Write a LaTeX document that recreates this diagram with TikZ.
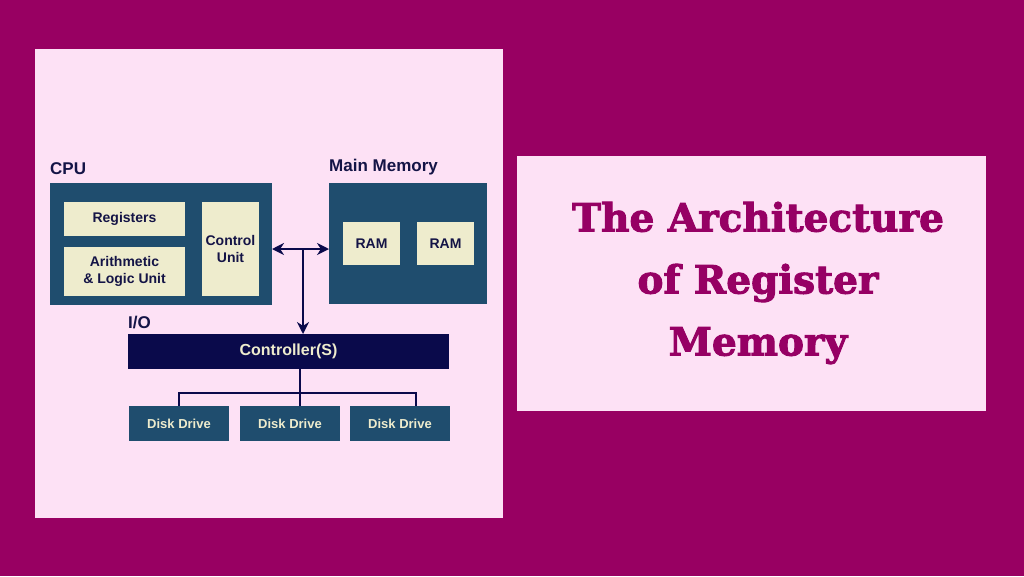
\documentclass[tikz,border=0pt]{standalone}
\usepackage{fontspec}
\usetikzlibrary{arrows.meta}
\setmainfont{Liberation Sans}
\newfontfamily\titlefont{DejaVu Serif}[BoldFeatures={FakeBold=2.5}]
\definecolor{bgmag}{RGB}{152,0,98}
\definecolor{panel}{RGB}{253,225,245}
\definecolor{teal}{RGB}{31,77,110}
\definecolor{beige}{RGB}{238,236,205}
\definecolor{navy}{RGB}{10,10,75}
\definecolor{ink}{RGB}{20,20,70}
\definecolor{titlec}{RGB}{150,0,100}
\begin{document}
\begin{tikzpicture}[x=1pt,y=-1pt,
  box/.style={fill=teal,draw=none},
  inbox/.style={fill=beige,draw=none,font=\bfseries\fontsize{14}{17}\selectfont,text=ink,align=center},
  disk/.style={fill=teal,draw=none,font=\bfseries\fontsize{13}{15}\selectfont,text=beige},
  lbl/.style={font=\bfseries\fontsize{17}{19}\selectfont,text=ink,anchor=south west,inner sep=0pt},
  conn/.style={draw=navy,line width=2pt},
  tip/.style={-{Stealth[length=12pt,width=12pt]}}
]
\useasboundingbox (0,0) rectangle (1024,576);
\fill[bgmag] (0,0) rectangle (1024,576);
\fill[panel] (35,49) rectangle (503,518);
\fill[panel] (517,156) rectangle (986,411);

% CPU
\node[lbl] (cpul) at (50,175) {CPU};
\fill[box] (50,183) rectangle (272,305);
\coordinate (cpuE) at (272,249);
\node[inbox,minimum width=121pt,minimum height=34pt] (reg) at (124.5,219) {Registers};
\node[inbox,minimum width=121pt,minimum height=49pt] (alu) at (124.5,271.5) {Arithmetic\\\& Logic Unit};
\node[inbox,minimum width=57pt,minimum height=94pt,inner sep=0pt] (cu) at (230.5,249) {Control\\Unit};

% Main memory
\node[lbl] (mml) at (329,175) {Main Memory};
\fill[box] (329,183) rectangle (487,304);
\coordinate (mmW) at (329,249);
\node[inbox,minimum width=57pt,minimum height=43pt] (ram1) at (371.5,243.5) {RAM};
\node[inbox,minimum width=57pt,minimum height=43pt] (ram2) at (445.5,243.5) {RAM};

% I/O
\node[lbl] (iol) at (128,329) {I/O};
\node[fill=navy,minimum width=321pt,minimum height=35pt,inner sep=0pt,text=beige,font=\bfseries\fontsize{16}{18}\selectfont] (ctrl) at (288.5,351.5) {Controller(S)};

\node[disk,minimum width=100pt,minimum height=35pt] (d1) at (179,423.5) {Disk Drive};
\node[disk,minimum width=100pt,minimum height=35pt] (d2) at (290,423.5) {Disk Drive};
\node[disk,minimum width=100pt,minimum height=35pt] (d3) at (400,423.5) {Disk Drive};

% connectors
\coordinate (jn) at (303,249);
\draw[conn,{Stealth[length=12pt,width=12pt]}-{Stealth[length=12pt,width=12pt]}] (cpuE) -- (mmW);
\draw[conn,tip] (jn) -- (303,334);
\coordinate (bus) at (300,393);
\draw[conn,line width=1.5pt] (ctrl.south -| bus) -- (bus);
\draw[conn,line width=1.5pt] (d1.north) -- (179,393) -- (416,393) -- (416,406);
\draw[conn,line width=1.5pt] (bus) -- (d2.north -| bus);

% title
\node[font=\titlefont\bfseries\fontsize{39}{62}\selectfont,text=titlec,align=center] (title) at (758,283) {The Architecture\\of Register\\Memory};
\end{tikzpicture}
\end{document}
